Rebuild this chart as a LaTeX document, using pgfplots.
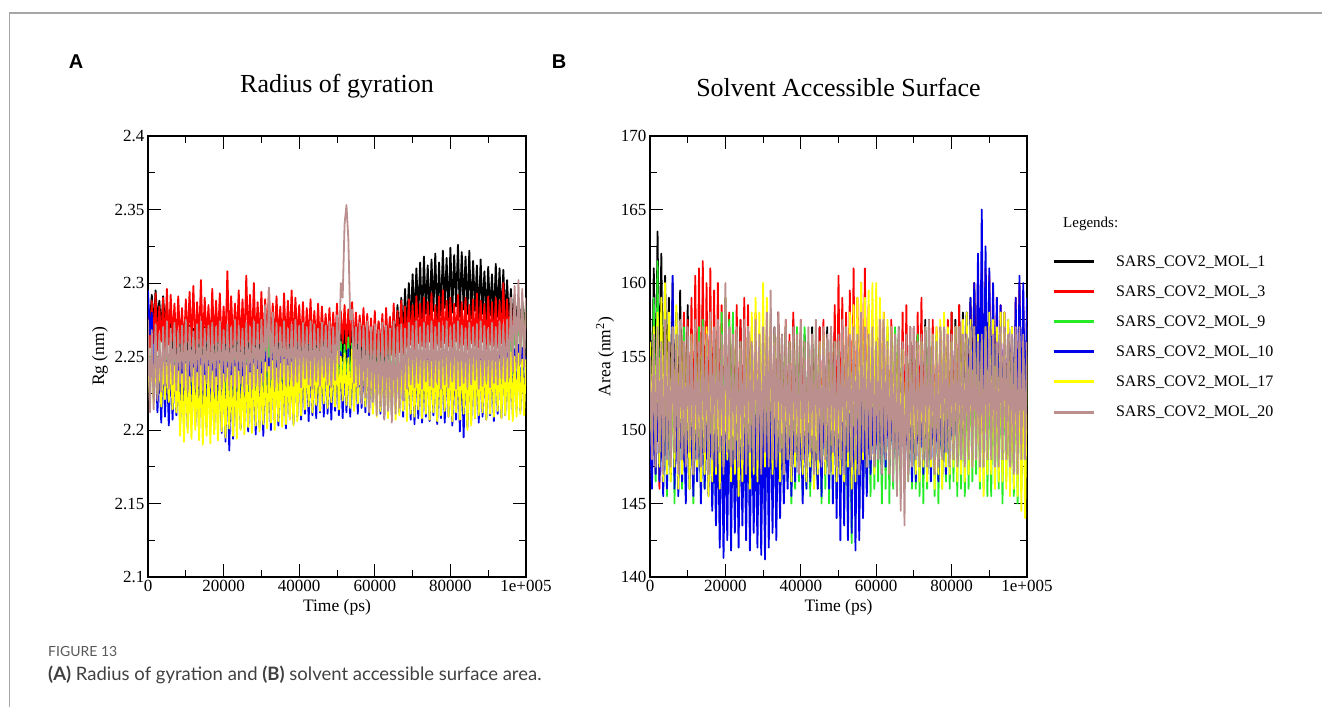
\documentclass[border=0pt]{standalone}
\usepackage{fontspec}
\setmainfont{Liberation Serif}
\newfontfamily\labfont{Liberation Sans}
\newfontfamily\capfont{Lato}
\usepackage{pgfplots}
\pgfplotsset{compat=1.18}
\usepackage{pgfplotstable}
\definecolor{mgreen}{RGB}{40,235,40}
\definecolor{mbrown}{RGB}{188,143,143}
\definecolor{mred}{RGB}{255,0,0}
\definecolor{mblue}{RGB}{0,0,235}
\definecolor{myellow}{RGB}{255,255,0}

\pgfplotstableread{
x b r g u y w
0 2.285 2.280 2.262 2.295 2.250 2.275
500 2.272 2.256 2.226 2.265 2.222 2.212
1000 2.292 2.288 2.255 2.280 2.254 2.268
1500 2.270 2.259 2.221 2.230 2.218 2.214
2000 2.295 2.293 2.259 2.252 2.248 2.272
2500 2.274 2.254 2.228 2.212 2.224 2.220
3000 2.288 2.284 2.261 2.249 2.252 2.266
3500 2.268 2.260 2.219 2.205 2.216 2.226
4000 2.291 2.290 2.256 2.254 2.250 2.270
4500 2.271 2.255 2.224 2.209 2.221 2.230
5000 2.286 2.296 2.260 2.247 2.246 2.274
5500 2.266 2.258 2.227 2.203 2.219 2.228
6000 2.274 2.292 2.258 2.251 2.249 2.269
6500 2.246 2.261 2.222 2.207 2.214 2.231
7000 2.270 2.286 2.263 2.245 2.244 2.273
7500 2.243 2.256 2.220 2.210 2.212 2.227
8000 2.268 2.291 2.257 2.253 2.240 2.268
8500 2.247 2.259 2.225 2.204 2.196 2.232
9000 2.272 2.283 2.261 2.248 2.238 2.271
9500 2.244 2.254 2.219 2.206 2.192 2.229
10000 2.266 2.289 2.255 2.250 2.245 2.275
10500 2.248 2.260 2.228 2.201 2.198 2.226
11000 2.271 2.294 2.259 2.246 2.236 2.270
11500 2.242 2.257 2.223 2.208 2.194 2.233
12000 2.269 2.298 2.262 2.252 2.242 2.267
12500 2.245 2.255 2.221 2.203 2.200 2.228
13000 2.273 2.287 2.256 2.249 2.239 2.272
13500 2.247 2.259 2.226 2.199 2.193 2.230
14000 2.267 2.302 2.260 2.254 2.244 2.274
14500 2.243 2.256 2.220 2.205 2.190 2.227
15000 2.270 2.290 2.258 2.247 2.237 2.269
15500 2.246 2.261 2.224 2.202 2.196 2.232
16000 2.268 2.285 2.263 2.251 2.243 2.271
16500 2.244 2.254 2.222 2.207 2.191 2.229
17000 2.272 2.296 2.257 2.245 2.240 2.273
17500 2.249 2.258 2.227 2.200 2.197 2.226
18000 2.266 2.288 2.261 2.253 2.236 2.270
18500 2.243 2.260 2.221 2.204 2.193 2.231
19000 2.270 2.293 2.259 2.248 2.245 2.274
19500 2.247 2.255 2.225 2.198 2.199 2.228
20000 2.268 2.284 2.256 2.252 2.238 2.268
20500 2.245 2.259 2.223 2.192 2.195 2.233
21000 2.271 2.308 2.262 2.246 2.242 2.272
21500 2.242 2.256 2.220 2.186 2.201 2.227
22000 2.269 2.291 2.258 2.250 2.237 2.270
22500 2.248 2.258 2.226 2.194 2.196 2.230
23000 2.273 2.286 2.260 2.247 2.243 2.275
23500 2.244 2.261 2.222 2.203 2.194 2.229
24000 2.267 2.295 2.257 2.253 2.240 2.271
24500 2.246 2.255 2.228 2.201 2.200 2.232
25000 2.270 2.289 2.261 2.249 2.236 2.269
25500 2.243 2.257 2.221 2.206 2.197 2.226
26000 2.272 2.305 2.259 2.245 2.244 2.273
26500 2.247 2.260 2.224 2.199 2.202 2.231
27000 2.268 2.292 2.256 2.252 2.239 2.270
27500 2.245 2.254 2.227 2.204 2.198 2.228
28000 2.271 2.300 2.262 2.248 2.245 2.274
28500 2.242 2.258 2.220 2.197 2.203 2.230
29000 2.269 2.287 2.258 2.251 2.241 2.272
29500 2.248 2.259 2.225 2.202 2.199 2.227
30000 2.266 2.294 2.263 2.246 2.238 2.275
30500 2.244 2.256 2.223 2.196 2.204 2.233
31000 2.273 2.289 2.261 2.253 2.246 2.285
31500 2.246 2.261 2.226 2.205 2.201 2.240
32000 2.270 2.296 2.265 2.249 2.243 2.297
32500 2.243 2.255 2.229 2.200 2.205 2.235
33000 2.268 2.286 2.260 2.252 2.247 2.280
33500 2.247 2.258 2.224 2.207 2.200 2.229
34000 2.272 2.291 2.262 2.247 2.242 2.273
34500 2.245 2.260 2.227 2.203 2.206 2.232
35000 2.269 2.284 2.258 2.254 2.245 2.270
35500 2.248 2.257 2.222 2.206 2.202 2.236
36000 2.271 2.293 2.261 2.250 2.248 2.274
36500 2.244 2.255 2.225 2.201 2.204 2.231
37000 2.267 2.288 2.257 2.253 2.244 2.269
37500 2.246 2.259 2.228 2.208 2.207 2.234
38000 2.270 2.295 2.260 2.248 2.246 2.272
38500 2.243 2.256 2.223 2.204 2.203 2.230
39000 2.268 2.290 2.262 2.252 2.249 2.275
39500 2.247 2.260 2.226 2.209 2.206 2.233
40000 2.272 2.285 2.259 2.255 2.251 2.271
40500 2.245 2.257 2.221 2.207 2.210 2.229
41000 2.269 2.287 2.261 2.249 2.253 2.273
41500 2.244 2.255 2.227 2.211 2.214 2.235
42000 2.271 2.283 2.257 2.254 2.248 2.270
42500 2.248 2.259 2.224 2.206 2.216 2.231
43000 2.267 2.289 2.262 2.250 2.254 2.274
43500 2.243 2.256 2.222 2.210 2.212 2.228
44000 2.270 2.281 2.258 2.253 2.250 2.272
44500 2.246 2.258 2.226 2.208 2.217 2.233
45000 2.272 2.286 2.260 2.248 2.252 2.269
45500 2.245 2.255 2.223 2.212 2.213 2.230
46000 2.268 2.284 2.263 2.252 2.249 2.273
46500 2.247 2.260 2.228 2.209 2.218 2.236
47000 2.271 2.279 2.259 2.255 2.253 2.271
47500 2.244 2.257 2.221 2.211 2.215 2.231
48000 2.269 2.283 2.261 2.250 2.251 2.274
48500 2.246 2.254 2.225 2.207 2.219 2.229
49000 2.270 2.280 2.257 2.254 2.248 2.270
49500 2.243 2.258 2.227 2.213 2.216 2.234
50000 2.272 2.286 2.262 2.249 2.254 2.278
50500 2.245 2.256 2.224 2.210 2.214 2.245
51000 2.268 2.281 2.260 2.253 2.250 2.300
51500 2.247 2.259 2.222 2.208 2.220 2.290
52000 2.271 2.285 2.258 2.251 2.252 2.340
52500 2.244 2.255 2.226 2.212 2.217 2.353
53000 2.269 2.282 2.263 2.255 2.249 2.330
53500 2.246 2.258 2.225 2.209 2.215 2.275
54000 2.272 2.287 2.259 2.250 2.255 2.282
54500 2.243 2.256 2.223 2.214 2.213 2.232
55000 2.270 2.280 2.261 2.252 2.251 2.270
55500 2.247 2.259 2.227 2.211 2.218 2.229
56000 2.268 2.278 2.257 2.254 2.248 2.273
56500 2.245 2.257 2.224 2.215 2.221 2.218
57000 2.271 2.283 2.262 2.249 2.252 2.271
57500 2.244 2.255 2.226 2.212 2.216 2.222
58000 2.269 2.279 2.260 2.253 2.250 2.274
58500 2.248 2.252 2.228 2.210 2.214 2.212
59000 2.272 2.276 2.258 2.255 2.253 2.270
59500 2.246 2.251 2.222 2.213 2.211 2.219
60000 2.268 2.281 2.261 2.250 2.249 2.272
60500 2.245 2.250 2.225 2.216 2.209 2.210
61000 2.273 2.274 2.259 2.254 2.251 2.268
61500 2.247 2.253 2.227 2.211 2.213 2.216
62000 2.270 2.279 2.262 2.252 2.247 2.273
62500 2.244 2.250 2.223 2.208 2.210 2.207
63000 2.274 2.283 2.258 2.255 2.252 2.271
63500 2.248 2.252 2.226 2.214 2.208 2.213
64000 2.276 2.277 2.260 2.251 2.249 2.269
64500 2.252 2.251 2.224 2.210 2.212 2.205
65000 2.280 2.286 2.261 2.254 2.250 2.274
65500 2.256 2.250 2.228 2.215 2.207 2.211
66000 2.285 2.281 2.257 2.250 2.253 2.270
66500 2.260 2.253 2.222 2.212 2.210 2.215
67000 2.290 2.288 2.262 2.253 2.248 2.272
67500 2.263 2.251 2.225 2.209 2.213 2.220
68000 2.296 2.284 2.259 2.255 2.251 2.269
68500 2.266 2.256 2.223 2.213 2.206 2.228
69000 2.300 2.289 2.261 2.250 2.254 2.273
69500 2.270 2.258 2.219 2.207 2.211 2.231
70000 2.306 2.285 2.258 2.253 2.249 2.271
70500 2.274 2.255 2.224 2.204 2.209 2.229
71000 2.310 2.291 2.262 2.250 2.252 2.274
71500 2.277 2.259 2.221 2.208 2.214 2.232
72000 2.314 2.286 2.260 2.254 2.248 2.270
72500 2.272 2.257 2.226 2.205 2.208 2.228
73000 2.318 2.290 2.257 2.251 2.253 2.273
73500 2.279 2.256 2.223 2.209 2.211 2.233
74000 2.312 2.287 2.261 2.255 2.247 2.271
74500 2.275 2.260 2.220 2.206 2.207 2.230
75000 2.316 2.293 2.259 2.250 2.251 2.274
75500 2.281 2.255 2.225 2.210 2.212 2.229
76000 2.320 2.285 2.262 2.253 2.249 2.270
76500 2.274 2.258 2.222 2.204 2.206 2.232
77000 2.314 2.291 2.258 2.251 2.252 2.273
77500 2.278 2.256 2.227 2.208 2.210 2.228
78000 2.322 2.295 2.261 2.254 2.248 2.271
78500 2.283 2.259 2.223 2.205 2.213 2.231
79000 2.317 2.288 2.260 2.250 2.253 2.274
79500 2.276 2.257 2.221 2.209 2.209 2.229
80000 2.324 2.290 2.257 2.253 2.250 2.270
80500 2.280 2.255 2.226 2.203 2.206 2.233
81000 2.319 2.286 2.262 2.250 2.254 2.272
81500 2.284 2.260 2.224 2.207 2.212 2.228
82000 2.326 2.292 2.259 2.255 2.249 2.274
82500 2.277 2.256 2.222 2.199 2.207 2.230
83000 2.321 2.287 2.261 2.251 2.252 2.271
83500 2.282 2.258 2.227 2.195 2.211 2.232
84000 2.318 2.290 2.258 2.254 2.248 2.269
84500 2.279 2.255 2.223 2.202 2.200 2.229
85000 2.322 2.285 2.262 2.250 2.251 2.273
85500 2.276 2.259 2.225 2.206 2.203 2.231
86000 2.315 2.289 2.260 2.253 2.253 2.270
86500 2.281 2.257 2.221 2.208 2.208 2.234
87000 2.312 2.293 2.257 2.251 2.250 2.272
87500 2.274 2.256 2.226 2.205 2.210 2.228
88000 2.316 2.288 2.261 2.255 2.247 2.274
88500 2.279 2.260 2.224 2.209 2.212 2.230
89000 2.308 2.286 2.259 2.250 2.252 2.271
89500 2.275 2.255 2.222 2.207 2.207 2.233
90000 2.311 2.291 2.262 2.254 2.249 2.269
90500 2.278 2.258 2.227 2.210 2.211 2.229
91000 2.306 2.287 2.258 2.252 2.253 2.273
91500 2.273 2.257 2.223 2.206 2.209 2.232
92000 2.313 2.290 2.260 2.255 2.250 2.270
92500 2.277 2.256 2.225 2.211 2.213 2.231
93000 2.310 2.288 2.261 2.251 2.248 2.274
93500 2.274 2.259 2.226 2.208 2.208 2.235
94000 2.309 2.300 2.259 2.254 2.252 2.272
94500 2.276 2.257 2.228 2.210 2.210 2.233
95000 2.302 2.289 2.263 2.253 2.249 2.275
95500 2.272 2.258 2.232 2.212 2.207 2.236
96000 2.296 2.290 2.275 2.252 2.253 2.290
96500 2.270 2.256 2.238 2.211 2.206 2.240
97000 2.292 2.287 2.282 2.255 2.250 2.298
97500 2.271 2.258 2.245 2.214 2.209 2.242
98000 2.290 2.285 2.290 2.258 2.252 2.302
98500 2.269 2.257 2.250 2.213 2.211 2.245
99000 2.288 2.284 2.287 2.256 2.248 2.296
99500 2.270 2.258 2.252 2.215 2.210 2.243
100000 2.285 2.280 2.285 2.250 2.248 2.290
}\rgdata

\pgfplotstableread{
x b r g u y w
0 158.0 152.0 156.0 150.0 156.0 155.0
500 150.5 146.5 147.0 146.0 149.0 148.0
1000 161.0 155.0 159.0 152.0 157.0 156.5
1500 151.0 147.0 146.5 147.0 148.5 147.5
2000 163.5 156.5 161.5 153.0 158.0 157.0
2500 152.0 146.0 147.5 146.5 147.5 148.5
3000 162.0 157.0 158.0 151.0 159.0 156.0
3500 150.0 147.5 146.0 145.5 146.5 147.0
4000 160.5 156.0 157.0 153.5 160.0 157.5
4500 151.5 148.0 145.5 146.0 147.0 148.0
5000 159.0 157.0 156.0 154.0 158.0 156.0
5500 149.5 147.0 146.5 147.0 146.5 147.5
6000 160.0 155.5 157.0 160.5 157.0 157.0
6500 150.0 148.5 145.0 146.0 147.5 148.5
7000 158.0 156.0 156.5 152.0 158.5 156.5
7500 148.5 147.0 146.5 145.5 146.0 147.0
8000 159.5 157.0 155.5 153.0 157.0 157.5
8500 148.0 148.0 146.0 146.5 147.0 148.0
9000 157.5 158.0 157.0 151.0 156.0 156.0
9500 147.5 147.5 145.5 145.0 148.0 147.5
10000 158.5 157.5 156.0 152.5 155.0 157.0
10500 148.5 147.0 146.0 146.0 146.0 148.5
11000 156.5 159.0 155.0 151.0 156.5 156.5
11500 147.0 148.0 145.0 145.5 147.0 147.0
12000 157.0 160.5 156.5 152.0 154.0 157.5
12500 148.0 148.5 146.5 146.5 147.5 148.0
13000 156.0 161.0 157.0 153.0 155.5 156.0
13500 147.5 147.0 145.5 145.0 146.5 147.5
14000 159.0 161.5 157.5 152.0 156.0 157.0
14500 148.0 148.0 146.0 146.0 147.0 148.5
15000 156.5 160.0 156.0 151.5 157.0 156.5
15500 147.0 147.5 146.5 145.5 145.5 147.0
16000 156.0 161.0 155.5 153.0 157.5 158.0
16500 148.5 148.0 145.0 144.5 146.5 148.0
17000 157.0 159.5 156.5 150.0 156.0 157.0
17500 147.5 147.0 146.0 143.5 147.0 147.5
18000 155.5 160.0 157.0 151.0 155.0 157.5
18500 148.0 148.5 145.5 142.0 146.0 148.5
19000 156.5 158.5 158.0 152.5 154.0 156.5
19500 147.0 147.5 146.0 141.3 147.5 147.0
20000 156.0 159.0 159.0 151.0 153.0 160.0
20500 148.5 148.0 146.5 142.5 148.0 148.5
21000 157.0 158.0 157.5 153.0 152.5 157.0
21500 147.0 147.0 145.0 141.8 146.5 147.5
22000 156.0 157.5 158.0 152.0 154.0 156.5
22500 148.0 148.5 146.0 143.0 147.0 148.0
23000 155.5 158.5 156.5 150.5 155.5 157.0
23500 147.5 147.0 145.5 142.0 145.5 147.5
24000 157.5 157.5 156.0 152.5 154.0 156.0
24500 148.0 148.0 146.5 143.5 146.5 148.0
25000 156.0 159.0 155.5 151.0 156.0 157.5
25500 147.0 147.5 146.0 142.5 147.5 147.0
26000 157.0 158.5 157.0 153.0 157.0 157.0
26500 148.5 148.0 145.0 141.8 146.0 148.5
27000 156.5 157.0 156.5 152.0 158.0 156.0
27500 147.5 147.0 146.0 143.0 147.0 147.5
28000 156.0 158.0 157.0 151.0 159.0 157.5
28500 148.0 148.5 145.5 142.0 146.5 148.0
29000 155.5 156.5 156.0 152.5 158.0 156.5
29500 147.0 147.0 146.5 141.5 148.0 147.0
30000 157.0 156.0 156.5 152.0 160.0 157.0
30500 148.5 148.0 145.0 141.2 147.5 148.5
31000 156.5 157.5 155.5 153.5 159.0 158.0
31500 147.5 147.5 146.0 142.0 148.5 147.5
32000 156.0 157.0 155.0 154.0 157.5 159.5
32500 148.0 148.0 146.5 143.0 147.0 148.0
33000 157.0 156.5 156.5 153.0 156.0 157.0
33500 147.0 147.0 145.5 142.5 148.0 147.5
34000 158.0 158.0 157.0 151.5 155.0 158.0
34500 148.5 148.5 146.0 144.0 146.5 148.5
35000 156.5 156.0 156.0 152.0 154.5 156.5
35500 147.5 147.0 145.5 145.0 147.0 147.0
36000 157.0 157.5 157.0 150.5 155.0 157.5
36500 148.0 148.0 146.5 146.0 148.0 148.0
37000 156.0 156.5 156.0 152.0 154.0 156.0
37500 147.0 147.5 145.0 145.5 146.5 147.5
38000 157.5 158.0 156.5 151.0 155.5 157.0
38500 148.5 148.0 146.0 146.5 147.5 148.5
39000 156.0 156.0 157.0 152.5 153.5 156.5
39500 147.0 147.0 146.5 147.0 148.0 147.0
40000 157.0 157.5 156.0 151.0 153.0 157.5
40500 148.0 148.5 145.5 145.0 147.0 148.0
41000 156.5 156.0 157.0 152.0 154.5 156.0
41500 147.5 147.0 146.0 146.0 146.5 147.5
42000 155.5 155.0 156.0 152.5 155.0 157.0
42500 146.5 147.5 145.5 146.5 147.5 148.5
43000 157.0 156.5 156.5 150.5 154.0 156.5
43500 147.5 148.0 146.0 147.0 146.0 147.0
44000 155.5 156.0 157.0 150.0 154.0 157.5
44500 146.0 148.0 146.5 146.0 147.0 148.0
45000 157.0 157.0 155.5 152.0 156.0 156.0
45500 147.5 147.5 145.0 145.5 148.0 147.5
46000 156.0 157.5 156.0 153.0 156.5 157.0
46500 148.0 148.0 146.0 147.0 147.0 148.0
47000 157.0 156.0 155.5 152.5 155.0 156.5
47500 146.5 147.0 145.0 146.0 148.0 147.0
48000 156.5 157.0 156.5 154.0 155.0 157.0
48500 148.0 148.5 146.5 145.0 147.0 148.5
49000 157.0 158.5 156.0 155.0 154.5 156.0
49500 147.0 147.0 145.5 144.0 146.5 147.5
50000 157.5 160.5 156.0 155.0 154.0 156.5
50500 148.0 148.0 146.0 142.5 147.0 148.0
51000 156.0 159.0 155.5 156.0 156.5 157.5
51500 147.5 147.5 145.0 143.5 146.5 147.0
52000 156.5 158.0 155.0 155.5 157.0 157.0
52500 148.5 148.0 143.5 142.5 147.5 148.5
53000 157.0 159.5 156.0 156.0 158.0 156.5
53500 147.0 147.5 142.3 143.0 146.0 147.5
54000 156.0 161.0 156.0 155.5 158.5 157.0
54500 148.0 147.0 144.0 141.8 146.5 148.0
55000 155.5 159.0 157.0 154.5 159.0 156.5
55500 147.5 148.5 144.5 142.5 147.0 147.0
56000 157.0 160.0 156.5 154.0 160.0 158.0
56500 148.5 148.0 145.5 144.0 148.0 148.5
57000 156.5 161.0 156.0 153.0 159.0 157.0
57500 147.0 147.0 146.0 145.5 147.5 147.5
58000 157.0 158.5 155.5 152.0 159.5 156.5
58500 148.0 148.0 145.5 147.0 148.0 148.0
59000 156.0 157.5 156.5 151.5 160.0 157.0
59500 147.5 147.5 146.0 147.5 147.0 147.5
60000 157.0 157.0 155.5 151.0 160.0 156.0
60500 148.0 148.0 146.5 148.0 148.5 148.0
61000 156.5 158.0 156.0 152.5 159.0 157.5
61500 147.0 147.5 145.0 147.0 147.5 147.0
62000 157.5 158.0 156.0 152.0 158.0 157.5
62500 148.5 148.5 146.0 147.5 148.5 148.0
63000 156.0 157.0 157.0 153.0 157.5 156.0
63500 147.5 147.5 145.0 147.0 147.0 147.0
64000 157.0 157.5 156.5 152.5 157.0 157.0
64500 148.0 148.0 146.0 148.0 148.0 146.5
65000 156.5 156.0 157.0 151.5 156.5 156.5
65500 148.5 148.5 146.0 147.5 147.0 145.5
66000 157.0 156.5 156.5 151.0 156.0 157.0
66500 147.0 147.0 145.5 148.0 147.5 144.5
67000 156.0 158.0 155.5 152.0 155.5 156.0
67500 148.0 148.0 146.0 147.5 148.0 143.5
68000 156.5 158.5 155.0 152.0 155.0 156.5
68500 147.5 147.5 146.5 147.0 147.0 146.5
69000 157.0 157.0 156.0 153.0 154.5 157.0
69500 148.0 148.0 146.0 146.5 148.0 147.5
70000 157.0 157.0 155.0 153.0 154.0 157.0
70500 147.5 147.5 146.0 146.5 147.0 148.0
71000 156.5 158.0 156.5 152.5 155.5 156.0
71500 148.5 148.0 145.5 147.5 146.5 147.5
72000 156.0 159.0 156.0 152.0 156.0 156.5
72500 148.0 148.5 145.0 147.0 147.5 148.0
73000 157.5 157.0 157.0 153.5 155.0 157.0
73500 147.0 147.0 146.0 147.0 146.5 147.5
74000 157.5 156.0 157.0 154.0 155.0 157.5
74500 148.0 148.0 146.5 146.5 147.5 148.0
75000 156.0 157.5 156.0 153.0 156.5 156.5
75500 147.5 147.5 145.5 147.0 146.0 147.0
76000 156.0 157.0 156.5 153.0 157.0 156.0
76500 148.5 148.5 145.0 146.5 147.0 147.5
77000 157.0 156.5 155.5 152.5 157.5 157.0
77500 147.0 147.0 146.0 147.5 146.0 148.0
78000 157.0 156.0 155.5 152.0 158.0 157.0
78500 148.0 148.0 146.5 147.0 147.5 148.5
79000 156.5 157.5 156.0 153.5 157.0 156.5
79500 147.5 147.5 146.0 147.5 147.0 147.5
80000 158.0 158.0 156.0 153.0 156.0 156.5
80500 148.0 148.0 146.5 148.0 147.5 148.0
81000 157.5 157.0 157.0 154.0 157.0 157.0
81500 147.5 148.5 145.5 147.5 146.5 147.5
82000 158.5 158.5 157.0 155.0 157.0 157.0
82500 148.0 147.5 146.0 148.5 147.0 148.0
83000 158.0 157.5 156.5 156.0 157.5 156.5
83500 149.0 148.0 145.5 149.0 146.5 147.5
84000 158.0 157.0 156.0 158.0 158.0 156.5
84500 150.0 148.5 146.0 149.5 147.0 148.0
85000 159.0 158.5 156.5 159.0 157.5 157.0
85500 151.0 148.0 146.5 150.0 147.5 147.5
86000 160.0 160.0 157.0 160.0 157.0 157.0
86500 153.0 149.0 147.0 151.0 148.0 148.0
87000 159.0 160.5 156.5 162.0 156.5 156.0
87500 152.5 148.5 146.0 150.5 146.5 147.5
88000 159.5 161.5 156.0 165.0 156.0 156.5
88500 152.0 148.5 146.0 149.0 145.5 147.5
89000 160.0 161.0 156.5 162.5 157.0 157.0
89500 151.0 148.0 145.5 150.5 147.0 148.0
90000 158.0 160.5 156.5 161.0 158.0 157.0
90500 150.0 148.0 145.5 150.0 147.0 148.0
91000 157.5 159.5 155.5 160.0 157.5 156.5
91500 149.0 147.5 146.0 149.5 146.0 147.5
92000 157.0 159.0 155.0 159.0 157.0 156.0
92500 148.0 147.5 146.0 149.5 146.5 147.5
93000 156.5 158.5 156.5 158.5 158.0 157.0
93500 147.5 148.0 145.0 148.5 146.5 148.0
94000 156.0 158.0 156.0 158.0 158.0 157.0
94500 148.0 148.0 146.5 148.0 146.0 148.0
95000 157.0 157.0 155.5 157.5 157.5 156.5
95500 147.5 147.0 146.0 149.0 145.5 147.5
96000 157.0 156.5 155.5 157.0 157.0 156.5
96500 148.0 147.5 145.5 149.5 146.0 147.0
97000 156.5 159.0 156.0 159.0 156.5 157.0
97500 147.5 147.0 145.0 149.0 145.5 147.0
98000 156.0 160.0 156.0 160.5 156.0 157.0
98500 147.0 148.0 146.0 150.0 144.5 148.0
99000 155.5 159.0 156.5 160.0 155.5 156.5
99500 147.0 148.0 146.0 150.0 144.0 148.0
100000 155.0 158.0 157.0 159.0 155.0 156.0
}\sasdata

\pgfplotsset{
  mdaxis/.style={
    scale only axis, width=378pt, height=441pt, anchor=south west,
    xmin=0, xmax=100000,
    xtick={0,20000,40000,60000,80000,100000},
    xticklabels={0,20000,40000,60000,80000,1e+005},
    minor xtick={10000,30000,50000,70000,90000},
    scaled x ticks=false, scaled y ticks=false,
    tick align=inside, major tick length=13pt, minor tick length=7pt,
    tick style={black, line width=1pt},
    axis line style={black, line width=1.2pt},
    ticklabel style={font=\fontsize{17}{20}\selectfont},
    label style={font=\fontsize{17.5}{20}\selectfont},
    xlabel={Time (ps)},
    every axis plot/.append style={line width=1.8pt, line join=round},
  }
}

\begin{document}
\begin{tikzpicture}[x=1pt,y=1pt]
\useasboundingbox (0,0) rectangle (1322,-707);
\draw[black!35, line width=1.5pt] (9.5,-707) -- (9.5,-13) -- (1322,-13);
\node[inner sep=0pt, font=\labfont\bfseries\fontsize{20}{24}\selectfont] at (76,-62) {A};
\node[inner sep=0pt, font=\labfont\bfseries\fontsize{20}{24}\selectfont] at (559,-62) {B};
\node[anchor=west, inner sep=0pt, font=\capfont\fontsize{14}{17}\selectfont, text=black!65] at (48,-651) {FIGURE 13};
\node[anchor=west, inner sep=0pt, font=\capfont\fontsize{18.5}{21}\selectfont, text=black!75] at (48,-675) {\textbf{(A)} Radius of gyration and \textbf{(B)} solvent accessible surface area.};

\begin{axis}[mdaxis, at={(148pt,-577pt)},
  ymin=2.1, ymax=2.4,
  ytick={2.1,2.15,2.2,2.25,2.3,2.35,2.4},
  yticklabels={2.1,2.15,2.2,2.25,2.3,2.35,2.4},
  minor ytick={2.125,2.175,2.225,2.275,2.325,2.375},
  ylabel={Rg (nm)},
  title={Radius of gyration},
  title style={font=\fontsize{26}{30}\selectfont, at={(0.5,1)}, anchor=base, yshift=38pt},
]
\addplot[black] table[x=x,y=b]{\rgdata};
\addplot[mred] table[x=x,y=r]{\rgdata};
\addplot[mgreen] table[x=x,y=g]{\rgdata};
\addplot[mblue] table[x=x,y=u]{\rgdata};
\addplot[myellow] table[x=x,y=y]{\rgdata};
\addplot[mbrown] table[x=x,y=w]{\rgdata};
\end{axis}

\begin{axis}[mdaxis, at={(650pt,-577pt)}, width=377pt,
  ymin=140, ymax=170,
  ytick={140,145,150,155,160,165,170},
  yticklabels={140,145,150,155,160,165,170},
  minor ytick={142.5,147.5,152.5,157.5,162.5,167.5},
  ylabel={Area (nm\textsuperscript{2})},
  title={Solvent Accessible Surface},
  title style={font=\fontsize{26}{30}\selectfont, at={(0.5,1)}, anchor=base, yshift=34pt},
  legend style={draw=none, fill=none, at={(1.066,0.734)}, anchor=north west,
    font=\fontsize{16}{19}\selectfont, row sep=14pt, inner sep=0pt,
    /tikz/every odd column/.append style={column sep=19pt}},
  legend cell align=left,
  legend image code/.code={\draw[#1, line width=3pt] (0pt,0pt) -- (40pt,0pt);},
]
\addplot[black] table[x=x,y=b]{\sasdata};
\addlegendentry{SARS\_COV2\_MOL\_1}
\addplot[mred] table[x=x,y=r]{\sasdata};
\addlegendentry{SARS\_COV2\_MOL\_3}
\addplot[mgreen] table[x=x,y=g]{\sasdata};
\addlegendentry{SARS\_COV2\_MOL\_9}
\addplot[mblue] table[x=x,y=u]{\sasdata};
\addlegendentry{SARS\_COV2\_MOL\_10}
\addplot[myellow] table[x=x,y=y]{\sasdata};
\addlegendentry{SARS\_COV2\_MOL\_17}
\addplot[mbrown] table[x=x,y=w]{\sasdata};
\addlegendentry{SARS\_COV2\_MOL\_20}
\end{axis}
\node[anchor=west, inner sep=0pt, font=\fontsize{15}{18}\selectfont] at (1063,-224) {Legends:};
\end{tikzpicture}
\end{document}
